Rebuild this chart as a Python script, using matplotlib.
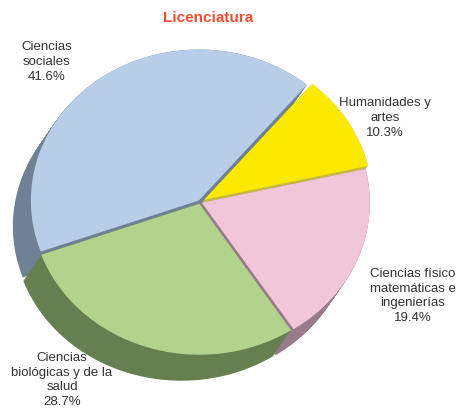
import matplotlib.pyplot as plt
import numpy as np

# data (drawn clockwise starting from "Ciencias sociales")
categories = ['Ciencias\nsociales', 'Humanidades y\nartes',
              'Ciencias físico\nmatemáticas e\ningenierías',
              'Ciencias\nbiológicas y de la\nsalud']
values = [41.6, 10.3, 19.4, 28.7]
top_colors = ['#B7CDE8', '#FBEA00', '#F2C6D9', '#B2D38B']
side_colors = ['#6F8295', '#C9BB3A', '#9A7B8C', '#667F50']
explode = [0.012, 0.03, 0.012, 0.012]

W, H = 461, 411
fig = plt.figure(figsize=(W / 100, H / 100), dpi=100)
ax = fig.add_axes([0, 0, 1, 1])

# ellipse geometry in pixels
cx, cy = 200, 202
rx, ry = 168, 151
depth_x, depth_y = -18, 26
start = 50 + values[0] / 100 * 360

# side of the pie: stack of darker pies shifted down-left
for t in np.linspace(1, 0, 30):
    ax.pie(values, colors=side_colors, explode=explode, startangle=start,
           counterclock=False, radius=1,
           center=(depth_x / rx * t, -depth_y / ry * t),
           wedgeprops=dict(linewidth=0), frame=True)

# top face
ax.pie(values, colors=top_colors, explode=explode, startangle=start,
       counterclock=False, radius=1, center=(0, 0),
       wedgeprops=dict(linewidth=0), frame=True)

ax.set_aspect('auto')
ax.set_xlim(-cx / rx, (W - cx) / rx)
ax.set_ylim(-(H - cy) / ry, cy / ry)
ax.axis('off')

# labels
label_pos = [(47, 62), (385, 118), (413, 296), (62, 380)]
for cat, val, (x, y) in zip(categories, values, label_pos):
    fig.text(x / W, 1 - y / H, f'{cat}\n{val}%', ha='center', va='center',
             multialignment='center', fontsize=9.5, color='#333333',
             family='Liberation Sans', linespacing=1.3)

fig.text(208 / W, 1 - 18 / H, 'Licenciatura', ha='center', va='center',
         fontsize=11, fontweight='bold', color='#F04E2E',
         family='Liberation Sans')

fig.savefig('out.png', dpi=100)
